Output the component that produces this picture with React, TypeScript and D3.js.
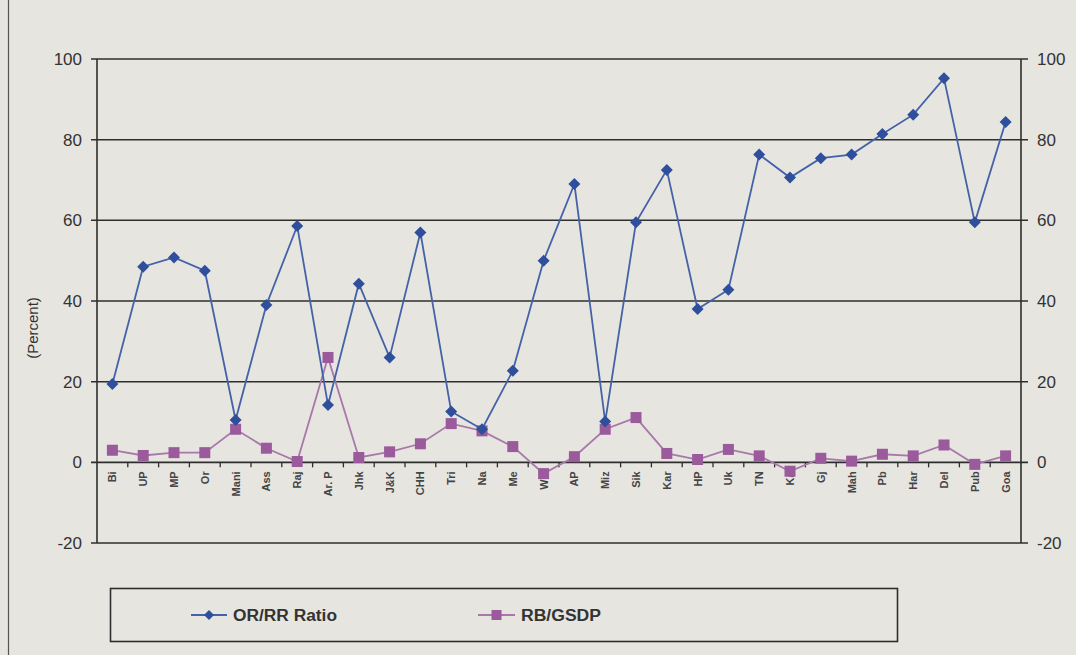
import React from "react";
import * as d3 from "d3";

const categories = ["Bi","UP","MP","Or","Mani","Ass","Raj","Ar. P","Jhk","J&K","CHH","Tri","Na","Me","WB","AP","Miz","Sik","Kar","HP","Uk","TN","Ka","Gj","Mah","Pb","Har","Del","Pub","Goa"];
const orRrRatio = [19.4,48.5,50.8,47.5,10.5,39,58.6,14.2,44.3,26,57,12.6,8.2,22.7,50,69,10.1,59.5,72.5,38,42.8,76.3,70.6,75.4,76.3,81.4,86.2,95.2,59.5,84.4];
const rbGsdp = [3.0,1.7,2.4,2.4,8.2,3.5,0.2,26,1.2,2.6,4.6,9.6,7.8,3.9,-2.8,1.4,8.2,11.1,2.2,0.7,3.2,1.6,-2.2,1.0,0.3,2.0,1.6,4.3,-0.5,1.6];
const yTicks = [-20,0,20,40,60,80,100];
const seriesNames = ["OR/RR Ratio","RB/GSDP"];

const W = 1076, H = 655;
const L = 97, R = 1021, T = 59, B = 543;
const BLUE = "#2f4f9c";
const BLUE_LINE = "#4462a8";
const PURPLE = "#9a5a9c";
const PURPLE_LINE = "#a878aa";
const INK = "#2e2e2e";
const FONT = "Liberation Sans, Arial, sans-serif";

export default function App() {
  const x = d3.scaleBand<string>().domain(categories).range([L, R]);
  const y = d3.scaleLinear().domain([-20, 100]).range([B, T]);
  const cx = (c: string) => (x(c) as number) + x.bandwidth() / 2;
  const line = d3.line<number>().x((_, i) => cx(categories[i])).y(d => y(d));
  const diamond = (px: number, py: number, r: number) => `M${px},${py - r}L${px + r},${py}L${px},${py + r}L${px - r},${py}Z`;

  return (
    <svg width={W} height={H} style={{ display: "block", position: "absolute", left: 0, top: 0 }}>
      <rect x={0} y={0} width={W} height={H} fill="#e7e5e0" />
      <line x1={8.5} x2={8.5} y1={0} y2={H} stroke="#555" strokeWidth={1.2} />
      {/* gridlines */}
      {yTicks.map(t => (
        <line key={"g" + t} x1={L - 6} x2={R + 7} y1={y(t)} y2={y(t)} stroke={INK} strokeWidth={t === 0 ? 1.8 : 1.5} />
      ))}
      {/* axes */}
      <line x1={L} x2={L} y1={T} y2={B} stroke={INK} strokeWidth={1.6} />
      <line x1={R} x2={R} y1={T} y2={B} stroke={INK} strokeWidth={1.6} />
      {/* x ticks at boundaries */}
      {categories.map((c, i) => i > 0 ? (
        <line key={"xt" + i} x1={x(c) as number} x2={x(c) as number} y1={y(0)} y2={y(0) + 5} stroke={INK} strokeWidth={1.3} />
      ) : null)}
      {/* y tick labels */}
      {yTicks.map(t => (
        <text key={"yl" + t} x={L - 15} y={y(t)} dy="0.35em" textAnchor="end" fontFamily={FONT} fontSize={17} fill="#333">{t}</text>
      ))}
      {yTicks.map(t => (
        <text key={"yr" + t} x={R + 16} y={y(t)} dy="0.35em" textAnchor="start" fontFamily={FONT} fontSize={17} fill="#333">{t}</text>
      ))}
      <text transform={`translate(38,${(T + B) / 2 + 27}) rotate(-90)`} textAnchor="middle" fontFamily={FONT} fontSize={15} fill="#333">(Percent)</text>
      {/* category labels */}
      {categories.map(c => (
        <text key={"cl" + c} transform={`translate(${cx(c) + 4},${y(0) + 9}) rotate(-90)`} textAnchor="end" fontFamily={FONT} fontSize={11} fontWeight="bold" fill="#444">{c}</text>
      ))}
      {/* series */}
      <path d={line(rbGsdp) || ""} fill="none" stroke={PURPLE_LINE} strokeWidth={1.8} />
      {rbGsdp.map((v, i) => (
        <rect key={"s" + i} x={cx(categories[i]) - 5.5} y={y(v) - 5.5} width={11} height={11} fill={PURPLE} />
      ))}
      <path d={line(orRrRatio) || ""} fill="none" stroke={BLUE_LINE} strokeWidth={1.8} />
      {orRrRatio.map((v, i) => (
        <path key={"d" + i} d={diamond(cx(categories[i]), y(v), 6)} fill={BLUE} />
      ))}
      {/* legend */}
      <rect x={110.5} y={588.5} width={787} height={53} fill="none" stroke={INK} strokeWidth={1.6} />
      <line x1={191} x2={227} y1={615} y2={615} stroke={BLUE_LINE} strokeWidth={2} />
      <path d={diamond(209, 615, 5)} fill={BLUE} />
      <text x={233} y={615} dy="0.35em" fontFamily={FONT} fontSize={16} fontWeight="bold" fill="#333" textLength={104} lengthAdjust="spacingAndGlyphs">{seriesNames[0]}</text>
      <line x1={478} x2={515} y1={615} y2={615} stroke={PURPLE_LINE} strokeWidth={2} />
      <rect x={491.5} y={610} width={10} height={10} fill={PURPLE} />
      <text x={521} y={615} dy="0.35em" fontFamily={FONT} fontSize={16} fontWeight="bold" fill="#333" textLength={80} lengthAdjust="spacingAndGlyphs">{seriesNames[1]}</text>
    </svg>
  );
}
